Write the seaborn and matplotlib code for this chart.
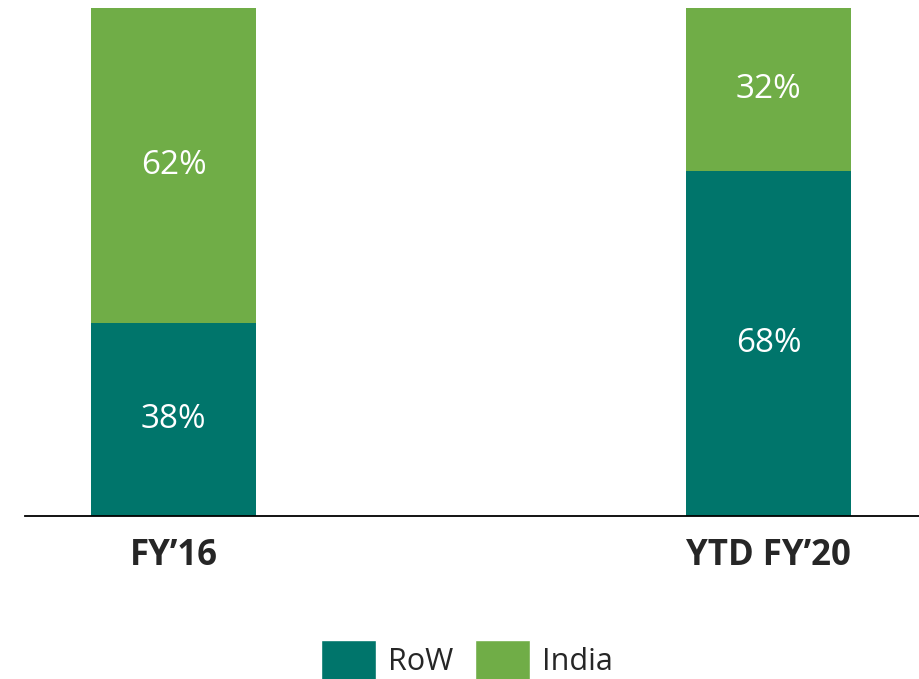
import pandas as pd
import matplotlib
matplotlib.use("Agg")
import matplotlib.pyplot as plt
import seaborn as sns
from matplotlib.patches import Patch

periods = ["FY\u201916", "YTD FY\u201920"]
row_share = [38, 68]
india_share = [62, 32]

teal = "#00756B"
green = "#70AD47"
text_col = "#262626"

sns.set_style("white")
plt.rcParams["font.family"] = ["Open Sans", "DejaVu Sans"]

df = pd.DataFrame({"period": periods, "RoW": row_share, "India": india_share})
df["total"] = df["RoW"] + df["India"]

fig = plt.figure(figsize=(9.19, 6.79), dpi=100)
ax = fig.add_axes([25 / 919, 163 / 679, 894 / 919, 508 / 679])

# stacked: draw total in green, then RoW on top of it from zero
sns.barplot(data=df, x="period", y="total", color=green, width=0.277,
            saturation=1, linewidth=0, ax=ax)
sns.barplot(data=df, x="period", y="RoW", color=teal, width=0.277,
            saturation=1, linewidth=0, ax=ax)

for i, (r, ind) in enumerate(zip(row_share, india_share)):
    ax.text(i, r / 2, f"{r}%", ha="center", va="center", color="white", fontsize=24)
    ax.text(i, r + ind / 2, f"{ind}%", ha="center", va="center", color="white", fontsize=24)

ax.set_xlim(-0.2496, 1.253)
ax.set_ylim(0, 100)
ax.set_xlabel("")
ax.set_ylabel("")
ax.set_yticks([])
for s in ["top", "right", "left"]:
    ax.spines[s].set_visible(False)
ax.spines["bottom"].set_color("#000000")
ax.spines["bottom"].set_linewidth(1.3)
ax.tick_params(axis="x", length=0, pad=16, labelsize=25, labelcolor=text_col)
for lbl in ax.get_xticklabels():
    lbl.set_fontweight("bold")

handles = [Patch(facecolor=teal, label="RoW"), Patch(facecolor=green, label="India")]
leg = fig.legend(handles=handles, loc="center", bbox_to_anchor=(467 / 919, 0.028),
                 ncol=2, frameon=False, fontsize=22, handlelength=1.79,
                 handleheight=1.63, handletextpad=0.4, columnspacing=0.72,
                 borderpad=0)
for t in leg.get_texts():
    t.set_color(text_col)

fig.savefig("out.png", dpi=100)
